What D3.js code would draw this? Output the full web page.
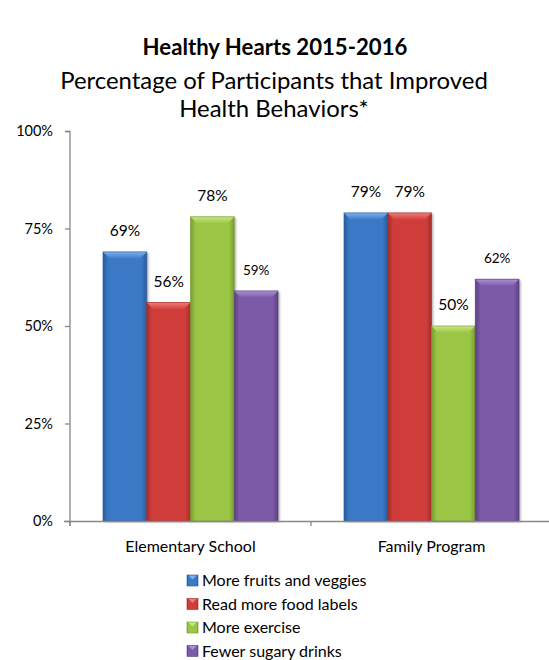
<!DOCTYPE html>
<html>
<head>
<meta charset="utf-8">
<script src="https://cdn.jsdelivr.net/npm/d3@7"></script>
<style>
  html, body { margin: 0; padding: 0; background: #fff; }
  svg { display: block; font-family: Lato, "Open Sans", sans-serif; }
</style>
</head>
<body>
<svg id="chart" width="549" height="660"></svg>
<script>
const categories = ["Elementary School", "Family Program"];
const seriesNames = ["More fruits and veggies", "Read more food labels", "More exercise", "Fewer sugary drinks"];
const elementaryValues = [69, 56, 78, 59];
const familyValues = [79, 79, 50, 62];
const yTicks = [0, 25, 50, 75, 100];
const titleText = "Healthy Hearts 2015-2016";
const subtitleLines = ["Percentage of Participants that Improved", "Health Behaviors*"];

const values = [elementaryValues, familyValues];
const palette = [
  { base: "#3b78c6", dark: "#2a5c9e", light: "#7fb2ee" },
  { base: "#cf3e3b", dark: "#a32c2a", light: "#f07a76" },
  { base: "#9bc545", dark: "#789c30", light: "#c8e784" },
  { base: "#7b5aa8", dark: "#5c4182", light: "#ad8fd8" }
];

const svg = d3.select("#chart");
const defs = svg.append("defs");

palette.forEach((c, i) => {
  const g = defs.append("linearGradient").attr("id", "bodyGrad" + i)
    .attr("x1", 0).attr("x2", 1).attr("y1", 0).attr("y2", 0);
  g.append("stop").attr("offset", "0%").attr("stop-color", c.dark);
  g.append("stop").attr("offset", "12%").attr("stop-color", c.base);
  g.append("stop").attr("offset", "50%").attr("stop-color", c.base);
  g.append("stop").attr("offset", "88%").attr("stop-color", c.base);
  g.append("stop").attr("offset", "100%").attr("stop-color", c.dark);
  const t = defs.append("linearGradient").attr("id", "topGrad" + i)
    .attr("x1", 0).attr("x2", 0).attr("y1", 0).attr("y2", 1);
  t.append("stop").attr("offset", "0%").attr("stop-color", c.light);
  t.append("stop").attr("offset", "100%").attr("stop-color", c.base);
});
const shadow = defs.append("filter").attr("id", "shadow")
  .attr("x", "-20%").attr("y", "-5%").attr("width", "150%").attr("height", "115%");
shadow.append("feDropShadow").attr("dx", 1.5).attr("dy", 1).attr("stdDeviation", 1.2)
  .attr("flood-color", "#000").attr("flood-opacity", 0.35);

// scales
const y = d3.scaleLinear().domain([0, 100]).range([521, 131]);
const x0 = d3.scaleBand().domain(categories).range([70, 552]).padding(0);
const groupPad = 33;
const x1 = d3.scaleBand().domain(seriesNames).range([groupPad, x0.bandwidth() - groupPad]).padding(0);

const axisColor = "#888888";

// Title
function fitText(sel, targetWidth, baseSize) {
  sel.attr("font-size", baseSize);
  const w = sel.node().getComputedTextLength();
  sel.attr("font-size", baseSize * targetWidth / w);
}
const title = svg.append("text").attr("x", 275).attr("y", 55)
  .attr("text-anchor", "middle").attr("font-weight", "bold").attr("fill", "#000")
  .text(titleText);
fitText(title, 265, 20);
const subs = svg.selectAll("text.sub").data(subtitleLines).join("text").attr("class", "sub")
  .attr("x", 274).attr("y", (d, i) => 89 + i * 28)
  .attr("text-anchor", "middle").attr("fill", "#000").text(d => d);
{
  const t0 = subs.filter((d, i) => i === 0);
  t0.attr("font-size", 18);
  const w = t0.node().getComputedTextLength();
  subs.attr("font-size", 18 * 428 / w);
}

// Y axis
const yAxis = d3.axisLeft(y).tickValues(yTicks).tickSize(5).tickPadding(12)
  .tickFormat(d => d + "%");
const yG = svg.append("g").attr("transform", "translate(70,0)").call(yAxis);
yG.select(".domain").attr("stroke", axisColor).attr("stroke-width", 1.3)
  .attr("d", "M-5,131.5H0V526");
yG.selectAll(".tick line").attr("stroke", axisColor).attr("stroke-width", 1.3);
yG.selectAll(".tick text").attr("font-size", 14.5).attr("fill", "#000")
  .attr("font-family", "Lato, sans-serif");

// Bars
const groups = svg.append("g").selectAll("g.group").data(categories).join("g")
  .attr("class", "group")
  .attr("transform", d => `translate(${x0(d)},0)`);

groups.each(function (cat, ci) {
  const g = d3.select(this);
  const data = seriesNames.map((s, si) => ({ s, si, v: values[ci][si] }));
  const bar = g.selectAll("g.bar").data(data).join("g").attr("class", "bar");
  bar.append("rect")
    .attr("x", d => x1(d.s)).attr("y", d => y(d.v))
    .attr("width", x1.bandwidth()).attr("height", d => y(0) - y(d.v))
    .attr("fill", d => `url(#bodyGrad${d.si})`)
    .attr("filter", "url(#shadow)");
  const bev = 7;
  bar.append("path")
    .attr("d", d => {
      const xl = x1(d.s), xr = xl + x1.bandwidth(), yt = y(d.v);
      return `M${xl},${yt}H${xr}L${xr - bev},${yt + bev}H${xl + bev}Z`;
    })
    .attr("fill", d => `url(#topGrad${d.si})`);
  bar.append("rect")
    .attr("x", d => x1(d.s)).attr("y", d => y(d.v))
    .attr("width", x1.bandwidth()).attr("height", d => y(0) - y(d.v))
    .attr("fill", "none").attr("stroke", d => palette[d.si].dark).attr("stroke-width", 0.8)
    .attr("stroke-opacity", 0.8);
  bar.append("text")
    .attr("x", d => x1(d.s) + x1.bandwidth() / 2)
    .attr("y", d => y(d.v) - 16)
    .attr("text-anchor", "middle")
    .attr("font-size", d => d.si === 3 ? 13.5 : 15.5)
    .attr("fill", "#000")
    .text(d => d.v + "%");
});

// X axis
const xAxis = d3.axisBottom(x0).tickSize(0).tickPadding(20);
const xG = svg.append("g").attr("transform", "translate(0,521)").call(xAxis);
xG.select(".domain").attr("stroke", axisColor).attr("stroke-width", 1.3)
  .attr("d", "M64,0.5H549");
xG.selectAll(".tick text").attr("font-size", 16).attr("fill", "#000")
  .attr("font-family", "Lato, sans-serif");
// category boundary ticks
const boundaries = [x0(categories[0]), x0(categories[1])];
xG.selectAll("line.boundary").data(boundaries).join("line").attr("class", "boundary")
  .attr("x1", d => d).attr("x2", d => d).attr("y1", 0).attr("y2", 5)
  .attr("stroke", axisColor).attr("stroke-width", 1.3);

// Legend
const legend = svg.append("g").attr("transform", "translate(187,0)");
const leg = legend.selectAll("g").data(seriesNames).join("g")
  .attr("transform", (d, i) => `translate(0,${580 + i * 23.5})`);
leg.append("rect").attr("x", 0).attr("y", -5).attr("width", 11).attr("height", 11)
  .attr("fill", (d, i) => `url(#bodyGrad${i})`)
  .attr("stroke", (d, i) => palette[i].dark).attr("stroke-width", 0.6);
leg.append("path").attr("d", "M1.5,-4.5H9.5L5.5,-0.5Z")
  .attr("fill", (d, i) => palette[i].light);
leg.append("text").attr("x", 15).attr("y", 6).attr("font-size", 16).attr("fill", "#000")
  .text(d => d);
</script>
</body>
</html>
